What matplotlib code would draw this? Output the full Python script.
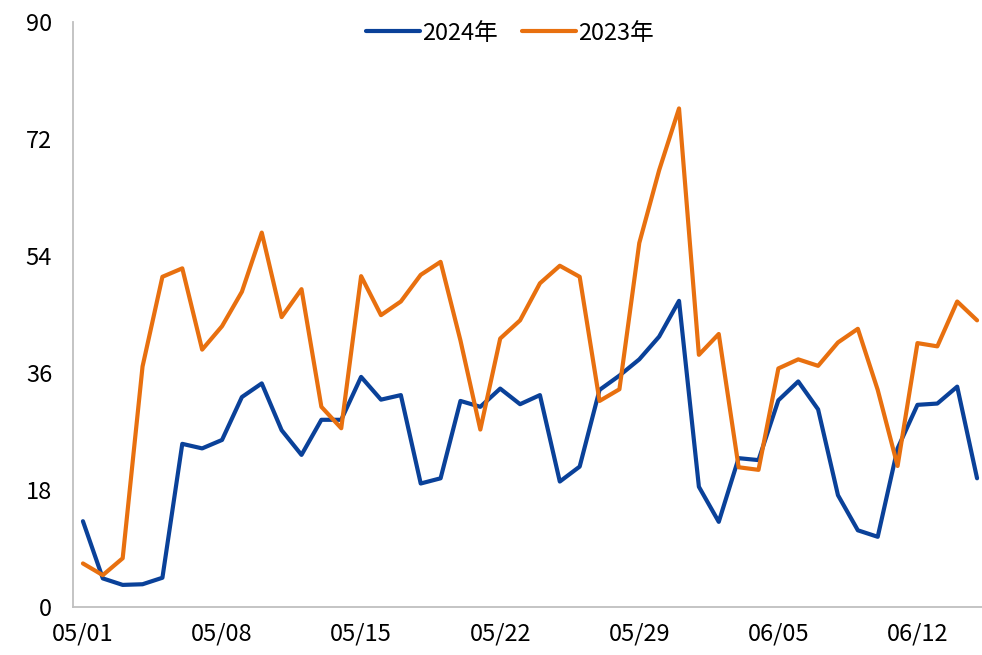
import matplotlib
matplotlib.use("Agg")
import matplotlib.pyplot as plt

plt.rcParams['font.family'] = ['Noto Sans CJK SC', 'DejaVu Sans']

dates = ["05/01","05/02","05/03","05/04","05/05","05/06","05/07","05/08","05/09","05/10",
         "05/11","05/12","05/13","05/14","05/15","05/16","05/17","05/18","05/19","05/20",
         "05/21","05/22","05/23","05/24","05/25","05/26","05/27","05/28","05/29","05/30",
         "05/31","06/01","06/02","06/03","06/04","06/05","06/06","06/07","06/08","06/09",
         "06/10","06/11","06/12","06/13","06/14","06/15"]

y2024 = [13.2, 4.4, 3.4, 3.5, 4.5, 25.1, 24.4, 25.7, 32.3, 34.4,
         27.2, 23.4, 28.8, 28.8, 35.4, 31.9, 32.6, 19.0, 19.8, 31.7,
         30.8, 33.6, 31.2, 32.6, 19.3, 21.6, 33.4, 35.6, 38.1, 41.6,
         47.1, 18.5, 13.1, 22.9, 22.6, 31.8, 34.7, 30.4, 17.2, 11.8,
         10.8, 24.4, 31.1, 31.3, 33.9, 19.8]

y2023 = [6.7, 4.9, 7.5, 37.0, 50.8, 52.1, 39.6, 43.2, 48.5, 57.6,
         44.6, 48.9, 30.8, 27.5, 50.9, 44.9, 47.0, 51.1, 53.1, 41.0,
         27.3, 41.3, 44.1, 49.8, 52.5, 50.8, 31.7, 33.5, 56.0, 67.2,
         76.7, 38.8, 42.0, 21.5, 21.1, 36.7, 38.1, 37.1, 40.7, 42.8,
         33.4, 21.7, 40.6, 40.1, 47.0, 44.1]

series_names = ["2024年", "2023年"]
yticks = [0, 18, 36, 54, 72, 90]

W, H = 982, 655
fig = plt.figure(figsize=(W / 100, H / 100), dpi=100)
left, right, bottom, top = 73, 987, 607, 22
ax = fig.add_axes([left / W, (H - bottom) / H, (right - left) / W, (bottom - top) / H])

x = list(range(len(dates)))
ax.plot(x, y2024, color="#0A4199", lw=3.0, label=series_names[0], solid_joinstyle="round", solid_capstyle="round")
ax.plot(x, y2023, color="#E8700F", lw=3.0, label=series_names[1], solid_joinstyle="round", solid_capstyle="round")

ax.set_xlim(-0.5, len(dates) - 0.5)
ax.set_ylim(0, 90)
ax.set_yticks(yticks)
ax.set_yticklabels([str(v) for v in yticks])
ax.set_xticks(x[::7])
ax.set_xticklabels(dates[::7])

for s in ["top", "right"]:
    ax.spines[s].set_visible(False)
for s in ["left", "bottom"]:
    ax.spines[s].set_color("#BFBFBF")
    ax.spines[s].set_linewidth(1.3)

ax.tick_params(axis="both", length=0, labelsize=17, colors="black")
ax.tick_params(axis="y", pad=15)
ax.tick_params(axis="x", pad=11)

leg = fig.legend(loc="center", bbox_to_anchor=(510 / W, 1 - 33 / H), ncol=2, frameon=False,
                 fontsize=17, handlelength=2.3, handletextpad=0.1, columnspacing=1.0)

fig.savefig("out.png", dpi=100)
